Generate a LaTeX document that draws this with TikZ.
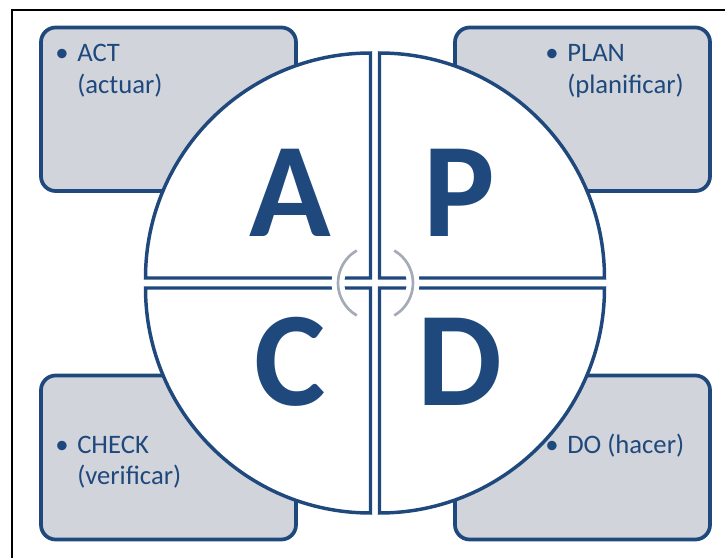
\documentclass[tikz,border=0pt]{standalone}
\usepackage{fontspec}
\setmainfont{Carlito}
\definecolor{pdcablue}{RGB}{31,73,125}
\definecolor{boxgray}{RGB}{209,212,219}
\definecolor{ringgray}{RGB}{165,170,185}
\begin{document}
\begin{tikzpicture}[x=0.75pt,y=0.75pt,
  box/.style={draw=pdcablue, fill=boxgray, line width=2.8pt, rounded corners=11pt},
  quad/.style={draw=pdcablue, fill=white, line width=2.6pt},
  ring/.style={draw=ringgray, line width=2pt},
  halo/.style={draw=white, line width=9.5pt},
  lbl/.style={text=pdcablue, font=\fontsize{20}{23.7}\selectfont, inner sep=0pt, align=left, anchor=base west},
  dot/.style={text=pdcablue, font=\fontsize{20}{23.7}\selectfont, inner sep=0pt, anchor=base},
  big/.style={text=pdcablue, font=\fontsize{101}{101}\selectfont\bfseries, inner sep=0pt, anchor=base}]
\useasboundingbox (0,0) rectangle (725,558);
\draw[line width=1.2pt] (12,0) -- (12,548) -- (725,548);
\draw[box] (41,367) rectangle (296,530.5);
\draw[box] (455,367) rectangle (710,530.5);
\draw[box] (41,18.5) rectangle (296,182.5);
\draw[box] (455,18.5) rectangle (710,182.5);
\draw[quad] (370.5,280) -- ++(-225,0) arc[start angle=180, end angle=90, radius=168.75pt] -- cycle;
\draw[quad] (379.5,280) -- ++(225,0) arc[start angle=0, end angle=90, radius=168.75pt] -- cycle;
\draw[quad] (370.5,270) -- ++(-225,0) arc[start angle=180, end angle=270, radius=168.75pt] -- cycle;
\draw[quad] (379.5,270) -- ++(225,0) arc[start angle=0, end angle=-90, radius=168.75pt] -- cycle;
\coordinate (hub) at (375.5,275);
\draw[halo] (hub) ++(120:28.1pt) arc[start angle=120, end angle=240, radius=28.1pt];
\draw[halo] (hub) ++(-60:28.1pt) arc[start angle=-60, end angle=60, radius=28.1pt];
\draw[ring] (hub) ++(120:28.1pt) arc[start angle=120, end angle=240, radius=28.1pt];
\draw[ring] (hub) ++(-60:28.1pt) arc[start angle=-60, end angle=60, radius=28.1pt];
\node[big] (bigA) at (290,321) {A};
\node[big] (bigP) at (459,321) {P};
\node[big] (bigC) at (290,153) {C};
\node[big] (bigD) at (460,153) {D};
\node[dot] (actdot) at (62,496.3) {\textbullet};
\node[lbl] (act) at (77,464.7) {ACT\\(actuar)};
\node[dot] (plandot) at (552,496.3) {\textbullet};
\node[lbl] (plan) at (567,464.7) {PLAN\\(planificar)};
\node[dot] (checkdot) at (62,104.7) {\textbullet};
\node[lbl] (check) at (77,73.1) {CHECK\\(verificar)};
\node[dot] (dodot) at (552,104.7) {\textbullet};
\node[lbl] (do) at (567,104.7) {DO (hacer)};
\end{tikzpicture}
\end{document}
